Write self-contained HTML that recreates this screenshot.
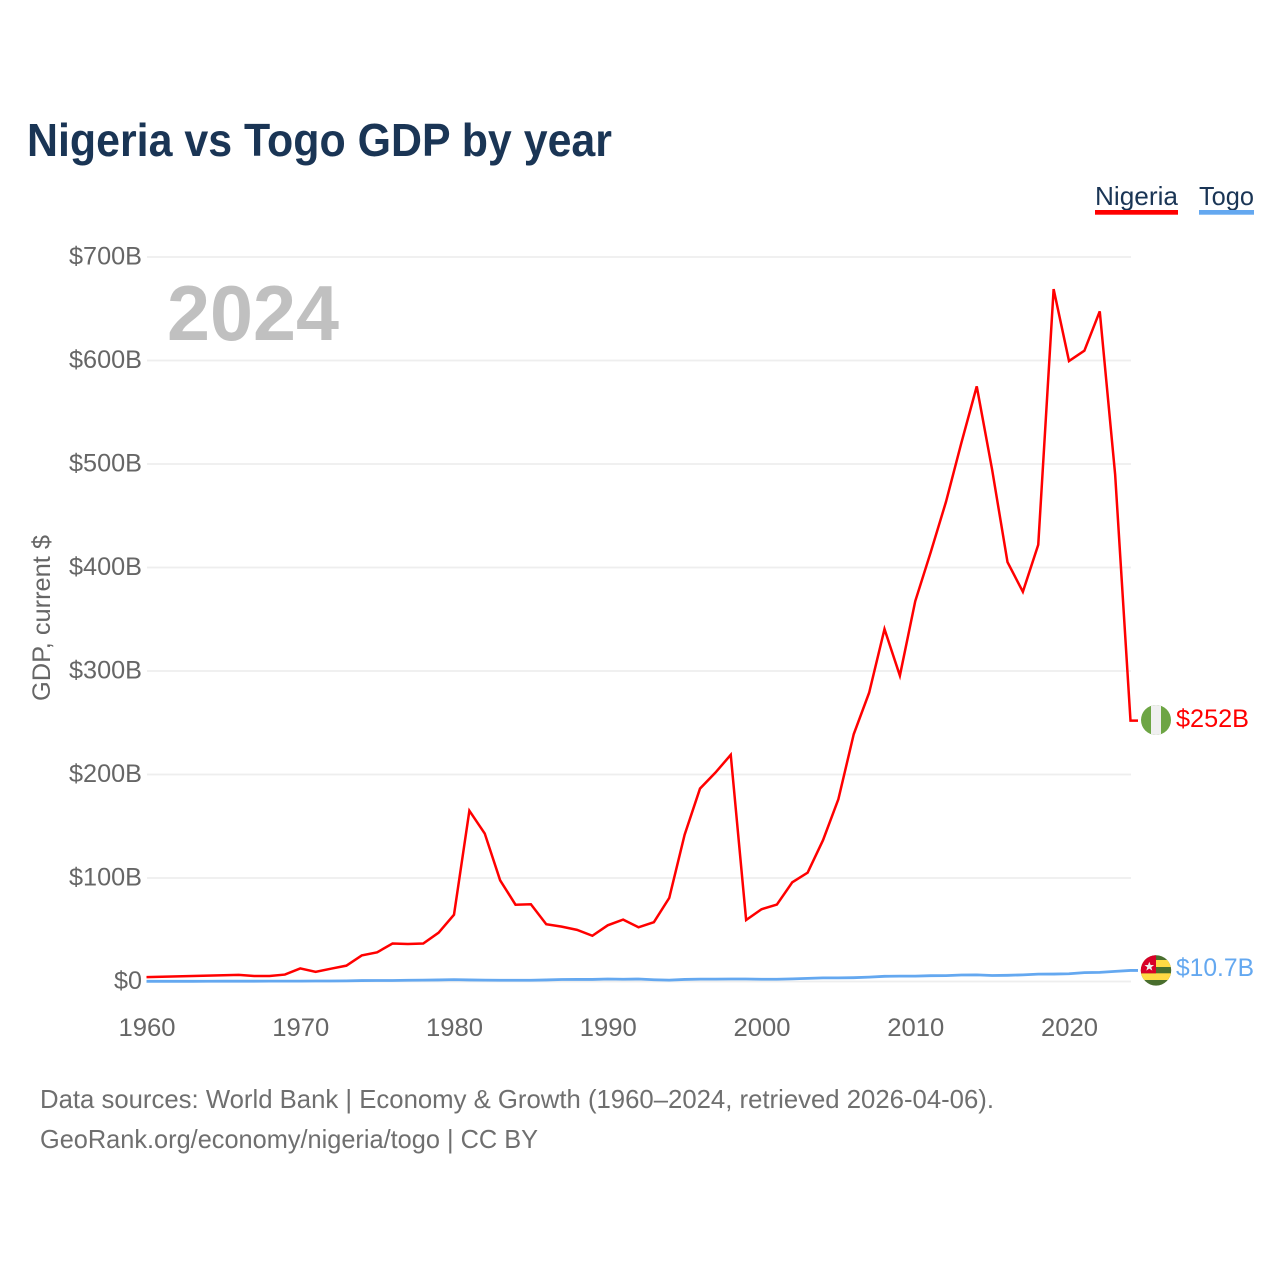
<!DOCTYPE html>
<html lang="en">
<head>
<meta charset="utf-8">
<title>Nigeria vs Togo GDP by year</title>
<style>
html,body{margin:0;padding:0;background:#fff;width:1280px;height:1280px;overflow:hidden}
svg{display:block;font-family:"Liberation Sans",sans-serif}
</style>
</head>
<body>
<svg id="chart" xmlns="http://www.w3.org/2000/svg" width="1280" height="1280" viewBox="0 0 1280 1280">
  <defs>
    <clipPath id="clip-ng"><circle id="clip-ng-circle" cx="1156" cy="720" r="15"></circle></clipPath>
    <clipPath id="clip-tg"><circle id="clip-tg-circle" cx="1156" cy="970.4" r="15.2"></circle></clipPath>
  </defs>
  <text x="27" y="156" font-size="46" font-weight="700" fill="#1a3555" textLength="585" lengthAdjust="spacingAndGlyphs">Nigeria vs Togo GDP by year</text>

  <g>
    <g>
      <text x="1095" y="205" font-size="26" fill="#1a3555" textLength="83" lengthAdjust="spacingAndGlyphs">Nigeria</text>
      <rect x="1095" y="210" width="83" height="4.7" fill="#ff0000"></rect>
    </g>
    <g>
      <text x="1199" y="205" font-size="26" fill="#1a3555" textLength="55" lengthAdjust="spacingAndGlyphs">Togo</text>
      <rect x="1199" y="210" width="55" height="4.7" fill="#64a8f0"></rect>
    </g>
  </g>

  <g id="grid"></g>
  <g id="y-axis"></g>
  <g id="x-axis"></g>

  <text transform="translate(50,701) rotate(-90)" font-size="25" fill="#666666" textLength="166" lengthAdjust="spacingAndGlyphs">GDP, current $</text>
  <text x="167" y="340" font-size="78" font-weight="700" fill="#c0c0c0" textLength="172" lengthAdjust="spacingAndGlyphs">2024</text>

  <g id="series"></g>

  <g clip-path="url(#clip-ng)">
    <rect x="1141" y="705" width="30" height="30" fill="#6da544"></rect>
    <rect x="1151" y="705" width="10" height="30" fill="#f0f0f0"></rect>
  </g>
  <g clip-path="url(#clip-tg)">
    <rect x="1140" y="955" width="32" height="31" fill="#496e2d"></rect>
    <rect x="1140" y="960" width="32" height="7" fill="#ffda44"></rect>
    <rect x="1140" y="973.3" width="32" height="6.7" fill="#ffda44"></rect>
    <rect x="1140" y="955" width="16" height="18.3" fill="#d80027"></rect>
    <polygon points="1149.3,961.7 1150.6,965 1154.1,965 1151.3,967.2 1152.3,970.6 1149.3,968.6 1146.3,970.6 1147.3,967.2 1144.5,965 1148,965" fill="#f0f0f0"></polygon>
  </g>
  <text x="1176" y="727" font-size="25" fill="#ff0000" textLength="73" lengthAdjust="spacingAndGlyphs">$252B</text>
  <text x="1176" y="976" font-size="25" fill="#64a8f0" textLength="78" lengthAdjust="spacingAndGlyphs">$10.7B</text>

  <text x="40" y="1108" font-size="26" fill="#6f6f6f" textLength="954" lengthAdjust="spacingAndGlyphs">Data sources: World Bank | Economy &amp; Growth (1960–2024, retrieved 2026-04-06).</text>
  <text x="40" y="1148" font-size="26" fill="#6f6f6f" textLength="498" lengthAdjust="spacingAndGlyphs">GeoRank.org/economy/nigeria/togo | CC BY</text>
</svg>
<script>
const startYear = 1960;
const yTickValues = [0, 100, 200, 300, 400, 500, 600, 700];
const yTickLabels = ["$0", "$100B", "$200B", "$300B", "$400B", "$500B", "$600B", "$700B"];
const xTickYears = [1960, 1970, 1980, 1990, 2000, 2010, 2020];
const nigeriaValues = [4.2,4.6,5.0,5.3,5.7,6.0,6.4,5.3,5.3,6.7,12.6,9.3,12.4,15.3,25.2,28.2,36.7,36.2,36.7,47.2,64.5,165.0,143.0,97.8,74.2,74.6,55.3,53.0,49.9,44.2,54.3,59.8,52.4,57.3,80.8,141.8,186.4,201.8,219.0,59.4,69.8,74.3,95.8,105.2,136.5,176.2,239.0,279.0,340.5,295.5,367.5,414.5,463.5,520.5,575.0,494.5,405.2,376.5,422.0,669.0,599.5,609.5,647.5,490.0,252.0];
const togoValues = [0.2,0.2,0.2,0.2,0.25,0.3,0.3,0.3,0.35,0.4,0.4,0.45,0.5,0.6,0.9,1.0,1.0,1.2,1.3,1.5,1.8,1.5,1.3,1.2,1.2,1.2,1.5,1.9,2.0,2.0,2.4,2.2,2.4,1.7,1.3,2.0,2.3,2.3,2.4,2.4,2.2,2.2,2.5,3.0,3.5,3.5,3.7,4.2,5.0,5.2,5.2,5.6,5.7,6.3,6.4,5.8,6.0,6.4,7.1,7.2,7.5,8.6,8.8,9.8,10.7];

const SVG_NS = "http://www.w3.org/2000/svg";
const xScale = function (year) { return 146.5 + (year - 1960) * (1130.5 - 146.5) / 64; };
const yScale = function (value) { return 981.5 - value * (981.5 - 257) / 700; };

const gridGroup = document.getElementById("grid");
const yAxisGroup = document.getElementById("y-axis");
const xAxisGroup = document.getElementById("x-axis");
const seriesGroup = document.getElementById("series");

yTickValues.forEach(function (value, i) {
  const line = document.createElementNS(SVG_NS, "line");
  
  
  line.setAttribute("x1", 147);
  line.setAttribute("x2", 1131);
  line.setAttribute("y1", yScale(value));
  line.setAttribute("y2", yScale(value));
  line.setAttribute("stroke", "#eeeeee");
  line.setAttribute("stroke-width", "1.8");
  gridGroup.appendChild(line);

  const label = document.createElementNS(SVG_NS, "text");
  
  
  label.setAttribute("x", 142);
  label.setAttribute("y", yScale(value) + 7.5);
  label.setAttribute("text-anchor", "end");
  label.setAttribute("font-size", "25");
  label.setAttribute("fill", "#666666");
  label.setAttribute("textLength", yTickLabels[i].length === 2 ? 28 : 73);
  label.setAttribute("lengthAdjust", "spacingAndGlyphs");
  label.textContent = yTickLabels[i];
  yAxisGroup.appendChild(label);
});

xTickYears.forEach(function (year) {
  const label = document.createElementNS(SVG_NS, "text");
  
  
  label.setAttribute("x", xScale(year) + 0.5);
  label.setAttribute("y", 1036);
  label.setAttribute("text-anchor", "middle");
  label.setAttribute("font-size", "25");
  label.setAttribute("fill", "#666666");
  label.setAttribute("textLength", 57);
  label.setAttribute("lengthAdjust", "spacingAndGlyphs");
  label.textContent = String(year);
  xAxisGroup.appendChild(label);
});

function pointsFor(values) {
  const pts = values.map(function (v, i) {
    return xScale(startYear + i).toFixed(2) + "," + yScale(v).toFixed(2);
  });
  pts.push("1138," + yScale(values[values.length - 1]).toFixed(2));
  return pts.join(" ");
}

const nigeriaLine = document.createElementNS(SVG_NS, "polyline");


nigeriaLine.setAttribute("points", pointsFor(nigeriaValues));
nigeriaLine.setAttribute("fill", "none");
nigeriaLine.setAttribute("stroke", "#ff0000");
nigeriaLine.setAttribute("stroke-width", "2.5");
nigeriaLine.setAttribute("stroke-linejoin", "miter");
seriesGroup.appendChild(nigeriaLine);

const togoLine = document.createElementNS(SVG_NS, "polyline");


togoLine.setAttribute("points", pointsFor(togoValues));
togoLine.setAttribute("fill", "none");
togoLine.setAttribute("stroke", "#64a8f0");
togoLine.setAttribute("stroke-width", "2.8");
seriesGroup.appendChild(togoLine);
</script>
</body>
</html>
